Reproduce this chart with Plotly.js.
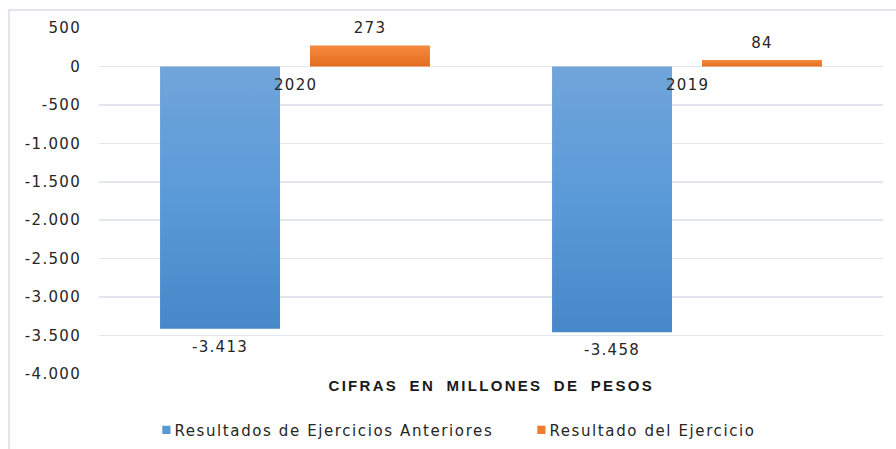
<!DOCTYPE html>
<html>
<head>
<meta charset="utf-8">
<script src="https://cdn.plot.ly/plotly-3.0.1.min.js"></script>
<style>
  html, body { margin: 0; padding: 0; background: #ffffff; overflow: hidden; }
  #wrap { position: relative; width: 896px; height: 449px; }
  #frame { position: absolute; left: 8px; top: 9px; width: 900px; height: 460px;
           border-top: 2px solid #e1e4ea; border-left: 2px solid #e1e4ea; box-sizing: border-box; }
  #chart { position: absolute; left: 0; top: 0; width: 896px; height: 449px; }
  svg text { letter-spacing: 1.3px; }
  #chart .annotation[data-index="0"] text { letter-spacing: 2.3px; word-spacing: 5px; }
  #chart .legend .legendtext { letter-spacing: 1.6px; }
  #chart .legend .legendpoints path { transform: translate(32px, 0px) scale(0.68); }
  #chart .barlayer .trace:nth-child(1) .point path { fill: url(#gradBlue) !important; }
  #chart .barlayer .trace:nth-child(2) .point path { fill: url(#gradOrange) !important; }
  #chart .barlayer .trace:nth-child(1) .bartext { baseline-shift: -6px; }
  #chart .barlayer .trace:nth-child(2) .bartext { baseline-shift: 5px; }
</style>
</head>
<body>
<svg width="0" height="0" style="position:absolute">
  <defs>
    <linearGradient id="gradBlue" x1="0" y1="0" x2="0" y2="1">
      <stop offset="0" stop-color="#70a5da"/>
      <stop offset="0.5" stop-color="#5a9ad8"/>
      <stop offset="1" stop-color="#4688c8"/>
    </linearGradient>
    <linearGradient id="gradOrange" x1="0" y1="0" x2="0" y2="1">
      <stop offset="0" stop-color="#f58a40"/>
      <stop offset="1" stop-color="#e46d1e"/>
    </linearGradient>
  </defs>
</svg>
<div id="wrap">
  <div id="frame"></div>
  <div id="chart"></div>
</div>
<script>
// ---- data ----
const categories = ['2020', '2019'];
const seriesNames = ['Resultados de Ejercicios Anteriores', 'Resultado del Ejercicio'];
const anteriores = [-3413, -3458];
const ejercicio = [273, 84];
const yTickVals = [500, 0, -500, -1000, -1500, -2000, -2500, -3000, -3500, -4000];
const xTitle = 'CIFRAS EN MILLONES DE PESOS';

// Spanish number format: '.' thousands separator, hyphen minus
function fmt(v) {
  const s = Math.abs(Math.round(v)).toString().replace(/\B(?=(\d{3})+(?!\d))/g, '.');
  return (v < 0 ? '-' : '') + s;
}
const yTickText = yTickVals.map(fmt);

const FONT = 'DejaVu Sans, Liberation Sans, Arial, sans-serif';
const TXT = '#262626';

const traces = [
  {
    type: 'bar', name: seriesNames[0], x: categories, y: anteriores,
    marker: { color: '#5a98d4' },
    text: anteriores.map(fmt), textposition: 'outside', cliponaxis: false,
    textfont: { family: FONT, size: 15, color: TXT },
    hoverinfo: 'skip'
  },
  {
    type: 'bar', name: seriesNames[1], x: categories, y: ejercicio,
    marker: { color: '#ee7b2e' },
    text: ejercicio.map(fmt), textposition: 'outside', cliponaxis: false,
    textfont: { family: FONT, size: 15, color: TXT },
    hoverinfo: 'skip'
  }
];

const annotations = [
  {
    text: xTitle, xref: 'paper', yref: 'paper', x: 0.5, y: 0, yanchor: 'top', yshift: -1,
    showarrow: false, font: { family: 'Liberation Sans, Arial, sans-serif', size: 15, color: '#1a1a1a', weight: 'bold' }
  }
].concat(categories.map((c, i) => ({
  // category labels sit just under the zero line; x given as category index
  text: c, xref: 'x', yref: 'y', x: i, y: 0, yanchor: 'top', yshift: -8,
  showarrow: false, font: { family: FONT, size: 15, color: TXT }
})));

const layout = {
  width: 896, height: 449,
  margin: { l: 99, r: 13, t: 28, b: 75, pad: 0 },
  paper_bgcolor: 'rgba(0,0,0,0)', plot_bgcolor: 'rgba(0,0,0,0)',
  barmode: 'group', bargap: 0.235, bargroupgap: 0.2,
  showlegend: true,
  legend: {
    orientation: 'h', xref: 'container', yref: 'container',
    x: 0.15, xanchor: 'left', y: 0.042, yanchor: 'middle',
    font: { family: FONT, size: 15, color: TXT }, itemwidth: 30, entrywidth: 330,
    traceorder: 'normal', bgcolor: 'rgba(0,0,0,0)'
  },
  xaxis: {
    type: 'category', range: [-0.5, categories.length - 0.5], autorange: false,
    showticklabels: false, showgrid: false, zeroline: false,
    showline: false, ticks: '', fixedrange: true
  },
  yaxis: {
    range: [-4000, 500], autorange: false, tickmode: 'array', tickvals: yTickVals, ticktext: yTickText,
    showgrid: true, gridcolor: '#e3e6ec', gridwidth: 1.6,
    zeroline: true, zerolinecolor: '#e3e6ec', zerolinewidth: 1.6,
    showline: false, ticks: '', ticklabelstandoff: 17,
    tickfont: { family: FONT, size: 15, color: TXT }, fixedrange: true
  },
  annotations: annotations,
  font: { family: FONT, color: TXT }
};

Plotly.newPlot('chart', traces, layout, { displayModeBar: false, staticPlot: true });
</script>
</body>
</html>
